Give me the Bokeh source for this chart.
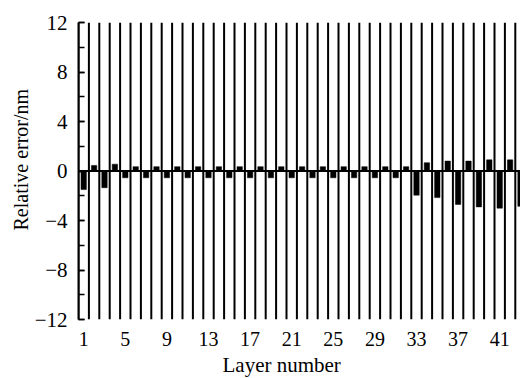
from bokeh.plotting import figure
from bokeh.models import FixedTicker, Range1d, Title
from bokeh.embed import file_html
from bokeh.resources import INLINE

# Layer index and relative thickness error (nm) per layer
layers = list(range(1, 44))
errors = [
    -1.5, 0.45, -1.35, 0.55, -0.55, 0.35, -0.55, 0.35, -0.55, 0.35,
    -0.55, 0.35, -0.55, 0.35, -0.55, 0.35, -0.55, 0.35, -0.55, 0.35,
    -0.55, 0.35, -0.55, 0.35, -0.55, 0.35, -0.55, 0.35, -0.55, 0.35,
    -0.55, 0.35, -1.95, 0.67, -2.15, 0.8, -2.7, 0.8, -2.9, 0.9,
    -3.0, 0.9, -2.85,
]
x_tick_values = [1, 5, 9, 13, 17, 21, 25, 29, 33, 37, 41]
y_tick_values = [-12, -8, -4, 0, 4, 8, 12]

FONT = "Liberation Serif"
Y_MIN, Y_MAX = -12, 12
X_MIN, X_MAX = 0.5, 43.0

p = figure(
    width=520, height=378,
    output_backend="svg", toolbar_location=None,
    x_range=Range1d(X_MIN, X_MAX), y_range=Range1d(Y_MIN, Y_MAX),
    min_border_left=78, min_border_right=0,
    min_border_top=22, min_border_bottom=59,
)
p.outline_line_color = None
p.xgrid.visible = False
p.ygrid.visible = False
p.background_fill_color = "white"
p.border_fill_color = "white"

# Full-height separators between neighbouring layers
bounds = [k - 0.5 for k in layers]
p.segment(x0=bounds, y0=[Y_MIN] * len(bounds), x1=bounds, y1=[Y_MAX] * len(bounds),
          line_color="black", line_width=2)

# Error bars per layer
p.vbar(x=layers, top=errors, bottom=0, width=0.52,
       fill_color="black", line_color="black", line_width=0.5)

# Zero reference line
p.segment(x0=[X_MIN], y0=[0], x1=[X_MAX], y1=[0], line_color="black", line_width=2)

# x axis: labels only
xa = p.xaxis[0]
xa.ticker = FixedTicker(ticks=x_tick_values)
xa.axis_line_color = None
xa.major_tick_line_color = None
xa.minor_tick_line_color = None
xa.major_label_text_font = FONT
xa.major_label_text_font_size = "20px"
xa.major_label_text_color = "black"
xa.major_label_standoff = 6

# y axis with inward ticks
ya = p.yaxis[0]
ya.ticker = FixedTicker(ticks=y_tick_values, minor_ticks=list(range(-12, 13, 2)))
ya.major_label_overrides = {v: (str(v) if v >= 0 else "\u2212" + str(-v)) for v in y_tick_values}
ya.axis_line_color = "black"
ya.axis_line_width = 2
ya.major_tick_in = 6
ya.major_tick_out = 0
ya.minor_tick_in = 6
ya.minor_tick_out = 0
ya.major_tick_line_width = 1.5
ya.minor_tick_line_width = 1.5
ya.major_tick_line_color = "black"
ya.minor_tick_line_color = "black"
ya.major_label_text_font = FONT
ya.major_label_text_font_size = "21px"
ya.major_label_text_color = "black"
ya.major_label_standoff = 11

# Axis titles as side titles, stacked outside the axes
p.add_layout(Title(text="Layer number", align="left", offset=144, standoff=4,
                   text_font=FONT, text_font_size="21px", text_font_style="normal",
                   text_color="black"), "below")
p.add_layout(Title(text="Relative error/nm", align="left", offset=89, standoff=0,
                   text_font=FONT, text_font_size="20px", text_font_style="normal",
                   text_color="black"), "left")

open("out.html", "w").write(file_html(p, INLINE))
